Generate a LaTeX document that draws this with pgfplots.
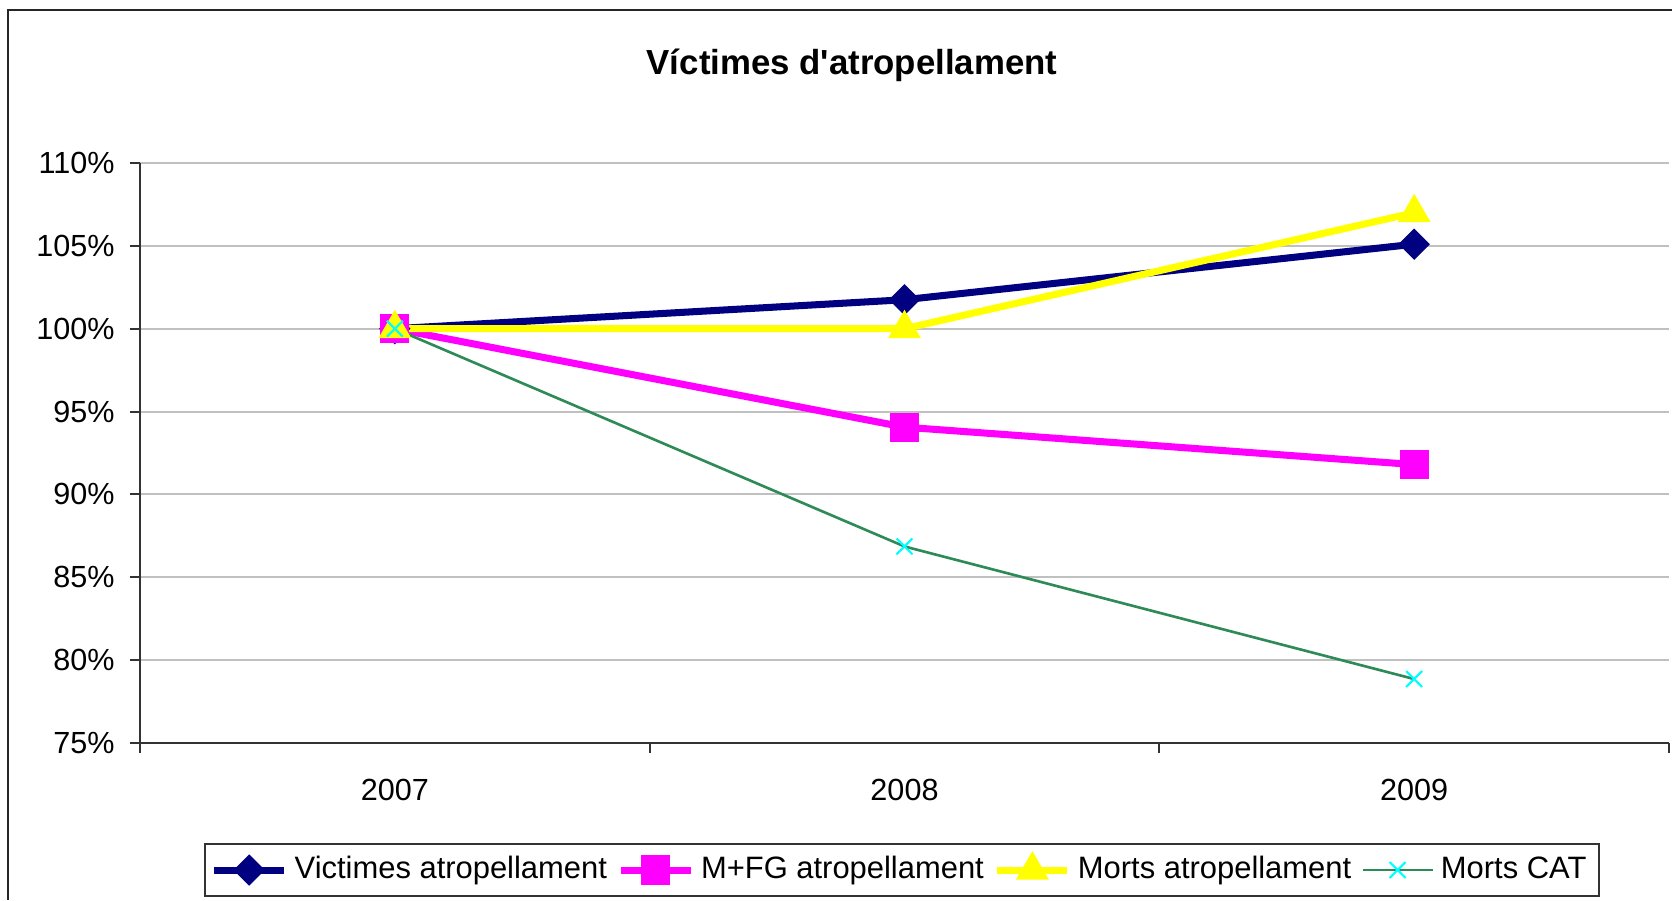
\documentclass[border=0pt]{standalone}
\usepackage{pgfplots}
\pgfplotsset{compat=1.18}
\usepackage{fontspec}
\setmainfont{Liberation Sans}
\newfontfamily\titlefont{Liberation Sans}[Ligatures=TeXOff]
\definecolor{cnavy}{RGB}{0,0,128}
\definecolor{cmag}{RGB}{255,0,255}
\definecolor{cyel}{RGB}{255,255,0}
\definecolor{cgreen}{RGB}{46,139,87}
\definecolor{ccyan}{RGB}{0,255,255}
\definecolor{cgrid}{RGB}{192,192,192}
\begin{document}
\begin{tikzpicture}
\useasboundingbox (0,0) rectangle (16.72,9);
\draw[line width=0.7pt, black!85] (0.08,0) -- (0.08,8.9) -- (16.72,8.9);
\node[font=\titlefont\fontsize{9.9}{12}\selectfont\bfseries] at (8.52,8.35) {Víctimes d'atropellament};
\begin{axis}[
  at={(1.40cm,1.57cm)}, anchor=south west,
  width=15.29cm, height=5.80cm, scale only axis,
  xmin=-0.5, xmax=2.5, ymin=75, ymax=110,
  axis lines*=left,
  axis line style={black!80, line width=0.6pt},
  xtick={0,1,2}, xticklabels={2007,2008,2009},
  major x tick style={draw=none},
  minor xtick={-0.5,0.5,1.5,2.5},
  ytick={75,80,...,110},
  yticklabel={\pgfmathprintnumber{\tick}\%},
  /pgf/number format/assume math mode=true,
  tick align=outside,
  tick style={black!80, line width=0.6pt},
  major tick length=0.1cm, minor tick length=0.1cm,
  ymajorgrids, grid style={cgrid, line width=0.6pt},
  xticklabel style={font=\fontsize{8.7}{10}\selectfont, yshift=-0.14cm},
  yticklabel style={font=\fontsize{8.7}{10}\selectfont, xshift=-0.03cm},
  clip=false,
  legend columns=4,
  legend style={at={(0.4984,-0.219)}, anchor=center, draw=black!80, line width=0.6pt,
    font=\fontsize{8.8}{10}\selectfont, inner sep=1.5pt,
    /tikz/every even column/.append style={column sep=0.03cm}},
  legend image code/.code={\draw[mark repeat=2,mark phase=2] plot coordinates {(0cm,0cm) (0.35cm,0cm) (0.7cm,0cm)};},
]
\addplot[cnavy, line width=2pt, mark=square*, mark size=3pt, mark options={solid, rotate=45, line width=0.3pt, fill=cnavy}]
  coordinates {(0,100) (1,101.75) (2,105.1)};
\addlegendentry{Victimes atropellament}
\addplot[cmag, line width=2pt, mark=square*, mark size=4pt, mark options={solid, line width=0.3pt, fill=cmag}]
  coordinates {(0,100) (1,94.06) (2,91.8)};
\addlegendentry{M+FG atropellament}
\addplot[cyel, line width=2pt, mark=triangle*, mark size=5.1pt, mark options={solid, line width=0.3pt, fill=cyel}]
  coordinates {(0,100) (1,100) (2,107.0)};
\addlegendentry{Morts atropellament}
\addplot[cgreen, line width=0.75pt, mark=x, mark size=3.2pt, mark options={solid, ccyan, line width=0.6pt}]
  coordinates {(0,100) (1,86.86) (2,78.86)};
\addlegendentry{Morts CAT}
\end{axis}
\end{tikzpicture}
\end{document}
